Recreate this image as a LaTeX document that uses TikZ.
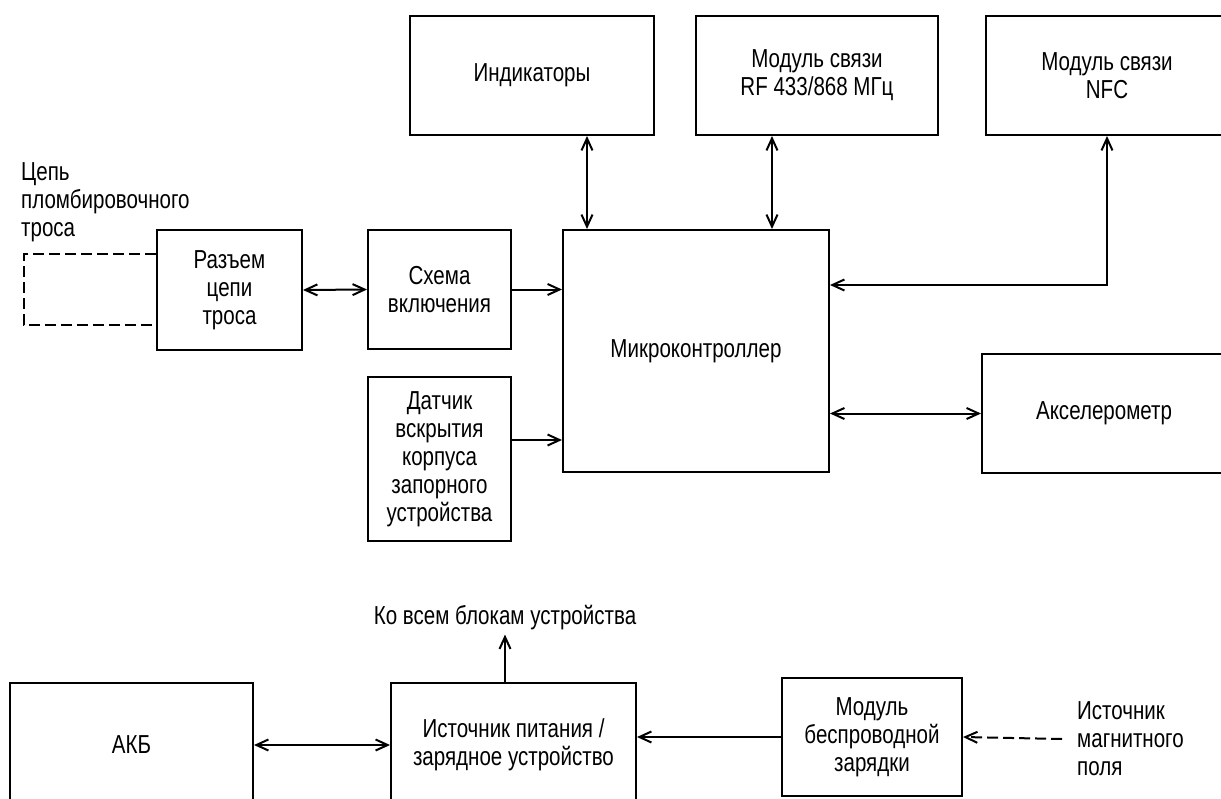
\documentclass[tikz,border=0pt]{standalone}
\usepackage{fontspec}
\setmainfont{Liberation Sans}[FakeStretch=0.79]
\usetikzlibrary{arrows.meta}

\begin{document}
\begin{tikzpicture}[x=1pt, y=-1pt, >={Straight Barb[length=12pt,width=11pt]},
    every node/.style={font=\fontsize{26}{28}\selectfont},
    blok/.style={draw, line width=2pt, align=center, inner sep=0pt},
    link/.style={line width=2pt},
    pryv/.style={link, dash pattern=on 11pt off 5pt}]
    \useasboundingbox (0,0) rectangle (1221,798);
    % upper part
    \node[blok, minimum width=244pt, minimum height=119pt] (ind) at (532,75.5) {Индикаторы};
    \node[blok, minimum width=242pt, minimum height=119pt] (rf) at (817,75.5) {Модуль связи\\RF 433/868 МГц};
    \node[blok, minimum width=242pt, minimum height=119pt] (nfc) at (1107,75.5) {Модуль связи\\NFC};
    \node[blok, minimum width=266pt, minimum height=242pt] (mk) at (696,351) {Микроконтроллер};
    \node[blok, minimum width=145pt, minimum height=120pt] (razem) at (229.5,290) {Разъем\\цепи\\троса};
    \node[blok, minimum width=143pt, minimum height=119pt] (shema) at (439.5,289.5) {Схема\\включения};
    \node[blok, minimum width=143pt, minimum height=164pt] (datchik) at (439.5,459) {Датчик\\вскрытия\\корпуса\\запорного\\устройства};
    \node[blok, minimum width=244pt, minimum height=119pt] (accel) at (1104,413.5) {Акселерометр};
    \node[align=left, anchor=west, inner sep=0pt] (tros) at (21,202) {Цепь\\пломбировочного\\троса};
    % lower part
    \node[blok, minimum width=243pt, minimum height=124pt] (akb) at (131.5,745) {АКБ};
    \node[blok, minimum width=245pt, minimum height=124pt] (ip) at (513.5,745) {Источник питания /\\зарядное устройство};
    \node[blok, minimum width=180pt, minimum height=118pt] (wpc) at (872,737) {Модуль\\беспроводной\\зарядки};
    \node[inner sep=4pt] (vsem) at (505,618) {Ко всем блокам устройства};
    \node[align=left, anchor=west, inner sep=0pt] (magn) at (1077,739) {Источник\\магнитного\\поля};

    \draw[pryv] ([yshift=36pt]razem.west) -- ++(-132,0) -- ++(0,71) -- ++(132,0);
    \draw[link, <->] (razem.east) -- (shema.west);
    \draw[link, ->] (shema.east) -- (shema.east -| mk.west);
    \draw[link, ->] ([yshift=19pt]datchik.east) -- ([yshift=19pt]datchik.east -| mk.west);
    \draw[link, <->] ([xshift=55pt]ind.south) -- ([xshift=55pt]ind.south |- mk.north);
    \draw[link, <->] ([xshift=-45pt]rf.south) -- ([xshift=-45pt]rf.south |- mk.north);
    \draw[link, <->] (nfc.south) |- ([yshift=66pt]mk.east);
    \draw[link, <->] (mk.east |- accel.west) -- (accel.west);
    \draw[link, ->] (vsem.south |- ip.north) -- (vsem.south);
    \draw[link, <->] (akb.east) -- (ip.west);
    \draw[link, ->] (wpc.west) -- (wpc.west -| ip.east);
    \draw[pryv, ->] ([xshift=-15pt]magn.west) -- (wpc.east);
\end{tikzpicture}
\end{document}
